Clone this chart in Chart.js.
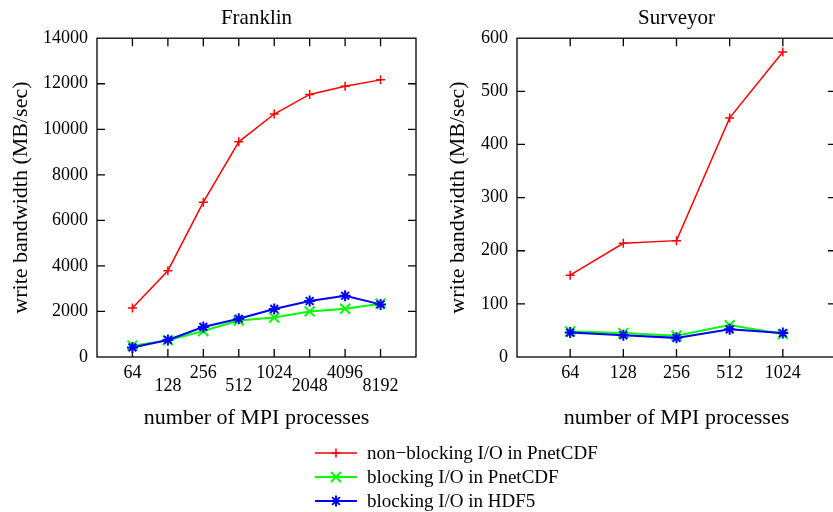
<!DOCTYPE html>
<html>
<head>
<meta charset="utf-8">
<script src="https://cdn.jsdelivr.net/npm/chart.js@4.4.0/dist/chart.umd.min.js"></script>
<style>
  html, body { margin: 0; padding: 0; background: #fff; overflow: hidden; }
  body { width: 833px; height: 512px; position: relative; font-family: "Liberation Serif", "Times New Roman", serif; }
  .caja { position: absolute; top: 0; width: 420px; height: 440px; }
  #leyenda { position: absolute; left: 312px; top: 441px; }
  .fila { height: 24px; display: flex; align-items: center; font-size: 19px; color: #000; white-space: nowrap; }
  .fila canvas { margin-right: 5px; }
</style>
</head>
<body>
<div class="caja" style="left:0"><canvas id="chart1" width="420" height="440"></canvas></div>
<div class="caja" style="left:420px"><canvas id="chart2" width="420" height="440"></canvas></div>
<div id="leyenda"></div>
<script>
// Franklin
const franklinProcs = ['64', '128', '256', '512', '1024', '2048', '4096', '8192'];
const franklinNoBloqPnetcdf = [2150, 3790, 6800, 9450, 10670, 11530, 11890, 12170];
const franklinBloqPnetcdf = [500, 730, 1140, 1600, 1730, 2000, 2120, 2340];
const franklinBloqHdf5 = [420, 750, 1320, 1680, 2110, 2460, 2690, 2310];
const franklinYTicks = [0, 2000, 4000, 6000, 8000, 10000, 12000, 14000];

// Surveyor
const surveyorProcs = ['64', '128', '256', '512', '1024'];
const surveyorNoBloqPnetcdf = [154, 214, 219, 450, 574];
const surveyorBloqPnetcdf = [48, 45, 40, 60, 43];
const surveyorBloqHdf5 = [46, 41, 36, 52, 45];
const surveyorYTicks = [0, 100, 200, 300, 400, 500, 600];

const nombresSeries = ['non\u2212blocking I/O in PnetCDF', 'blocking I/O in PnetCDF', 'blocking I/O in HDF5'];
const coloresSeries = ['#ff0000', '#00ff00', '#0000ff'];
const marcadores = ['cross', 'crossRot', 'star'];
const radios = [4.5, 7, 5.5];
const grosores = [1.5, 2, 2];

const fuente = '"Liberation Serif", "Times New Roman", serif';

// marco con ticks hacia adentro, estilo gnuplot
const marcoGnuplot = {
    id: 'marcoGnuplot',
    beforeDatasetsDraw(chart) {
        const ctx = chart.ctx;
        const a = chart.chartArea;
        const xs = chart.scales.x;
        const ys = chart.scales.y;
        ctx.save();
        ctx.strokeStyle = '#000';
        ctx.lineWidth = 1.3;
        ctx.strokeRect(a.left, a.top, a.right - a.left, a.bottom - a.top);
        ctx.beginPath();
        xs.ticks.forEach((t) => {
            if (t.value <= xs.min || t.value >= xs.max) return;
            const px = xs.getPixelForValue(t.value);
            ctx.moveTo(px, a.bottom); ctx.lineTo(px, a.bottom - 8);
            ctx.moveTo(px, a.top); ctx.lineTo(px, a.top + 8);
        });
        ys.ticks.forEach((t) => {
            if (t.value <= ys.min || t.value >= ys.max) return;
            const py = ys.getPixelForValue(t.value);
            ctx.moveTo(a.left, py); ctx.lineTo(a.left + 8, py);
            ctx.moveTo(a.right, py); ctx.lineTo(a.right - 8, py);
        });
        ctx.stroke();
        ctx.restore();
    }
};

function crearGrafico(idCanvas, titulo, procs, series, yTicks, escalonado, padTituloY) {
    const datasets = series.map((valores, i) => ({
        label: nombresSeries[i],
        data: valores.map((v, j) => ({ x: j, y: v })),
        borderColor: coloresSeries[i],
        backgroundColor: coloresSeries[i],
        borderWidth: grosores[i],
        pointStyle: marcadores[i],
        pointRadius: radios[i],
        pointBorderWidth: grosores[i],
        pointBorderColor: coloresSeries[i],
        tension: 0,
        clip: false,
        order: 2 - i
    }));

    const config = {
        type: 'line',
        data: { datasets: datasets },
        options: {
            responsive: false,
            animation: false,
            events: [],
            layout: { autoPadding: false, padding: { left: 0, right: 4, top: 0, bottom: 0 } },
            plugins: {
                legend: { display: false },
                tooltip: { enabled: false },
                title: {
                    display: true,
                    fullSize: false,
                    text: titulo,
                    color: '#000',
                    font: { family: fuente, size: 21, weight: 'normal' },
                    padding: { top: 6, bottom: 7 }
                }
            },
            scales: {
                x: {
                    type: 'linear',
                    min: -1,
                    max: procs.length,
                    grid: { display: false, drawTicks: false },
                    border: { display: false },
                    afterFit: (s) => {
                        s.height = 83;
                        s.paddingLeft = 0;
                        s.paddingRight = 0;
                    },
                    ticks: {
                        stepSize: 1,
                        autoSkip: false,
                        maxRotation: 0,
                        minRotation: 0,
                        padding: 10,
                        color: '#000',
                        font: { family: fuente, size: 18, lineHeight: 0.72 },
                        callback: (value) => {
                            const i = Math.round(value);
                            if (i < 0 || i >= procs.length) return '';
                            return (escalonado && i % 2 === 1) ? ['', procs[i]] : procs[i];
                        }
                    },
                    title: {
                        display: true,
                        text: 'number of MPI processes',
                        color: '#000',
                        font: { family: fuente, size: 22, weight: 'normal' },
                        padding: { top: 9, bottom: 9 }
                    }
                },
                y: {
                    min: yTicks[0],
                    max: yTicks[yTicks.length - 1],
                    grid: { display: false, drawTicks: false },
                    border: { display: false },
                    afterFit: (s) => { s.width = 97; },
                    ticks: {
                        stepSize: yTicks[1] - yTicks[0],
                        padding: 9,
                        color: '#000',
                        font: { family: fuente, size: 18 },
                        callback: (value) => String(value)
                    },
                    title: {
                        display: true,
                        text: 'write bandwidth (MB/sec)',
                        color: '#000',
                        font: { family: fuente, size: 22, weight: 'normal' },
                        padding: { top: padTituloY, bottom: padTituloY }
                    }
                }
            }
        },
        plugins: [marcoGnuplot]
    };

    const canva = document.getElementById(idCanvas);
    return new Chart(canva, config);
}

crearGrafico('chart1', 'Franklin', franklinProcs,
    [franklinNoBloqPnetcdf, franklinBloqPnetcdf, franklinBloqHdf5], franklinYTicks, true, 8);
crearGrafico('chart2', 'Surveyor', surveyorProcs,
    [surveyorNoBloqPnetcdf, surveyorBloqPnetcdf, surveyorBloqHdf5], surveyorYTicks, false, 25);

// leyenda comun debajo de ambos graficos
function dibujarMarcador(ctx, estilo, r, x, y) {
    ctx.beginPath();
    if (estilo === 'cross' || estilo === 'star') {
        ctx.moveTo(x - r, y); ctx.lineTo(x + r, y);
        ctx.moveTo(x, y - r); ctx.lineTo(x, y + r);
    }
    if (estilo === 'crossRot' || estilo === 'star') {
        const d = r * Math.SQRT1_2;
        ctx.moveTo(x - d, y - d); ctx.lineTo(x + d, y + d);
        ctx.moveTo(x - d, y + d); ctx.lineTo(x + d, y - d);
    }
    ctx.stroke();
}

const leyenda = document.getElementById('leyenda');
nombresSeries.forEach((nombre, i) => {
    const fila = document.createElement('div');
    fila.className = 'fila';
    const muestra = document.createElement('canvas');
    muestra.width = 50;
    muestra.height = 24;
    const ctx = muestra.getContext('2d');
    ctx.strokeStyle = coloresSeries[i];
    ctx.lineWidth = grosores[i];
    ctx.beginPath();
    ctx.moveTo(3, 12);
    ctx.lineTo(45, 12);
    ctx.stroke();
    dibujarMarcador(ctx, marcadores[i], radios[i], 24, 12);
    const texto = document.createElement('span');
    texto.textContent = nombre;
    fila.appendChild(muestra);
    fila.appendChild(texto);
    leyenda.appendChild(fila);
});
</script>
</body>
</html>
